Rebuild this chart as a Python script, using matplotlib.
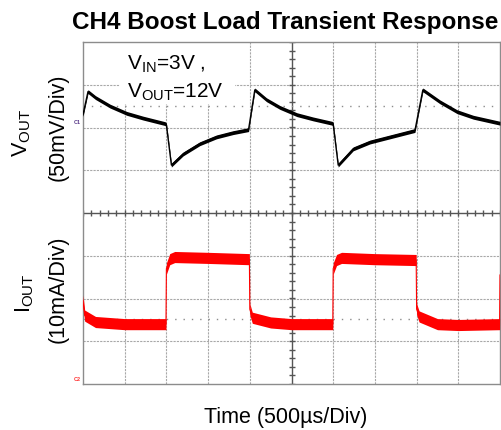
import matplotlib as mpl
mpl.use('Agg')
import matplotlib.pyplot as plt
import numpy as np

plt.rcParams['font.family'] = ['Liberation Sans', 'DejaVu Sans']
plt.rcParams['mathtext.fontset'] = 'custom'
plt.rcParams['mathtext.rm'] = 'Liberation Sans'

# scope traces in divisions (x: 500us/div, y: div)
vout_t = [0.0, 0.12, 0.3, 0.65, 1.05, 1.44, 1.97, 2.0, 2.12, 2.4, 2.8, 3.2, 3.6, 3.97,
          4.12, 4.4, 4.72, 5.13, 5.52, 5.97, 6.0, 6.12, 6.48, 6.88, 7.36, 7.96,
          8.15, 8.56, 8.97, 9.36, 10.0]
vout_div = [2.3, 2.84, 2.7, 2.5, 2.33, 2.22, 2.09, 2.06, 1.12, 1.38, 1.62, 1.78, 1.88, 1.95,
            2.88, 2.65, 2.47, 2.3, 2.2, 2.1, 2.08, 1.12, 1.5, 1.66, 1.78, 1.93,
            2.88, 2.6, 2.37, 2.24, 2.1]
vout_band = 0.045

iout_t = [0.0, 0.04, 0.3, 1.0, 1.5, 1.99, 2.0, 2.08, 2.2, 3.0, 3.99, 4.0, 4.06, 4.5, 5.0, 5.99,
          6.0, 6.08, 6.2, 7.0, 7.99, 8.0, 8.06, 8.5, 9.0, 9.99, 10.0]
iout_div = [-2.05, -2.4, -2.55, -2.6, -2.6, -2.6, -1.3, -1.08, -1.03, -1.05, -1.08, -2.25, -2.45,
            -2.56, -2.6, -2.6, -1.3, -1.1, -1.05, -1.08, -1.1, -2.25, -2.42, -2.6, -2.62,
            -2.6, -1.45]
iout_band = 0.13

title = 'CH4 Boost Load Transient Response'
xlabel = 'Time (500\u00b5s/Div)'

fig = plt.figure(figsize=(5.01, 4.30), dpi=100)
ax = fig.add_axes([83 / 501, 46 / 430, 417 / 501, 342 / 430])
ax.set_xlim(0, 10)
ax.set_ylim(-4, 4)
ax.set_xticks([])
ax.set_yticks([])
for s in ax.spines.values():
    s.set_color('#8c8c8c')
    s.set_linewidth(1.0)

# graticule
for gx in range(1, 10):
    if gx != 5:
        ax.axvline(gx, color='#a8a8a8', lw=0.8, ls=(0, (2, 1)), zorder=1)
for gy in range(-3, 4):
    if gy != 0:
        ax.axhline(gy, color='#a8a8a8', lw=0.8, ls=(0, (2, 1)), zorder=1)
ax.axhline(0, color='#555555', lw=1.0, zorder=1)
ax.axvline(5, color='#555555', lw=1.0, zorder=1)
ticks_x = np.arange(0, 10.01, 0.2)
ticks_y = np.arange(-4, 4.01, 0.2)
ax.plot(ticks_x, np.zeros_like(ticks_x), ls='none', marker='|', ms=4, color='#555555', mew=1, zorder=1)
ax.plot(np.full_like(ticks_y, 5), ticks_y, ls='none', marker='_', ms=4, color='#555555', mew=1, zorder=1)

# cursor reference lines
ax.axhline(2.5, color='#8c8c8c', lw=1.0, ls=(0, (1, 5)), zorder=1)
ax.axhline(-2.48, color='#8c8c8c', lw=1.0, ls=(0, (1, 5)), zorder=1)

# traces
vt = np.array(vout_t)
vv = np.array(vout_div)
ax.fill_between(vt, vv - vout_band, vv + vout_band, color='black', lw=0, zorder=3)
ax.plot(vt, vv, color='black', lw=1.0, zorder=3)
it = np.array(iout_t)
iv = np.array(iout_div)
ax.fill_between(it, iv - iout_band, iv + iout_band, color='red', lw=0, zorder=3)
ax.plot(it, iv, color='red', lw=0.8, zorder=3)

# annotation with white background
ax.add_patch(plt.Rectangle((0.89, 2.55), 2.75, 1.45, facecolor='white', edgecolor='none', zorder=2))
ax.text(1.05, 3.35, r'V$_{\mathrm{IN}}$=3V ,', fontsize=15, zorder=4)
ax.text(1.05, 2.71, r'V$_{\mathrm{OUT}}$=12V', fontsize=15, zorder=4)

ax.text(-0.05, 2.12, 'C1', fontsize=4, color='#5a3a8a', ha='right', va='center', fontweight='bold')
ax.text(-0.05, -3.9, 'C2', fontsize=4, color='#ff3030', ha='right', va='center', fontweight='bold')

fig.text(285 / 501, 1 - 22 / 430, title, fontsize=17.5, fontweight='bold',
         ha='center', va='center')
fig.text(286 / 501, 1 - 417 / 430, xlabel, fontsize=15.5, ha='center', va='center')

fig.text(22 / 501, 1 - 133 / 430, r'V$_{\mathrm{OUT}}$', fontsize=15.5, rotation=90, ha='center', va='center')
fig.text(58 / 501, 1 - 127 / 430, '(50mV/Div)', fontsize=15.5, rotation=90, ha='center', va='center')
fig.text(25 / 501, 1 - 293 / 430, r'I$_{\mathrm{OUT}}$', fontsize=15.5, rotation=90, ha='center', va='center')
fig.text(58 / 501, 1 - 289 / 430, '(10mA/Div)', fontsize=15.5, rotation=90, ha='center', va='center')

fig.savefig('out.png', dpi=100)
plt.close(fig)
